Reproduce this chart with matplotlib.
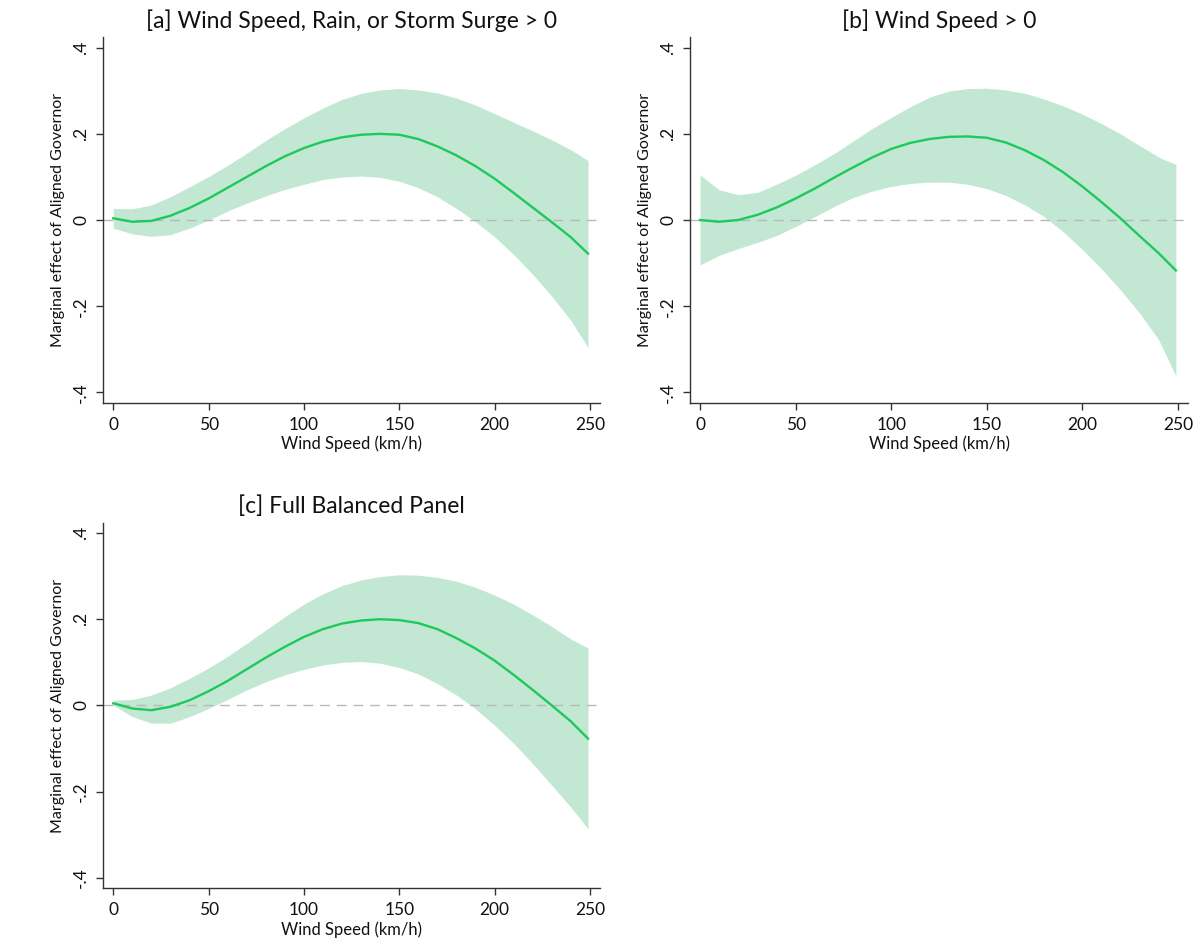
import matplotlib
matplotlib.use("Agg")
from matplotlib import pyplot as plt

plt.rcParams['font.family'] = ['Lato', 'DejaVu Sans']

# wind speed grid (km/h) where values were read
wind = [0, 10, 20, 30, 40, 50, 60, 70, 80, 90, 100, 110, 120,
        130, 140, 150, 160, 170, 180, 190, 200, 210, 220, 230, 240, 249]

# [a] Wind Speed, Rain, or Storm Surge > 0
a_est = [0.004, -0.004, -0.002, 0.010, 0.028, 0.050, 0.075, 0.100, 0.125, 0.148, 0.167, 0.182, 0.192,
         0.198, 0.200, 0.198, 0.188, 0.171, 0.150, 0.125, 0.096, 0.063, 0.029, -0.005, -0.040, -0.078]
a_hi = [0.027, 0.026, 0.035, 0.054, 0.077, 0.101, 0.127, 0.155, 0.185, 0.212, 0.237, 0.260, 0.280,
        0.294, 0.302, 0.305, 0.302, 0.295, 0.283, 0.267, 0.247, 0.227, 0.207, 0.186, 0.163, 0.138]
a_lo = [-0.019, -0.032, -0.038, -0.034, -0.019, 0.000, 0.021, 0.039, 0.056, 0.071, 0.083, 0.094, 0.100,
        0.102, 0.099, 0.090, 0.075, 0.054, 0.027, -0.004, -0.039, -0.080, -0.126, -0.177, -0.233, -0.296]

# [b] Wind Speed > 0
b_est = [0.000, -0.004, 0.000, 0.012, 0.029, 0.050, 0.073, 0.098, 0.122, 0.145, 0.165, 0.179, 0.188,
         0.193, 0.194, 0.191, 0.180, 0.162, 0.139, 0.111, 0.078, 0.042, 0.004, -0.037, -0.077, -0.117]
b_hi = [0.105, 0.070, 0.059, 0.064, 0.083, 0.104, 0.128, 0.154, 0.183, 0.212, 0.238, 0.263, 0.285,
        0.299, 0.305, 0.306, 0.302, 0.294, 0.281, 0.265, 0.246, 0.224, 0.200, 0.173, 0.146, 0.129]
b_lo = [-0.104, -0.082, -0.066, -0.052, -0.036, -0.015, 0.008, 0.031, 0.052, 0.067, 0.078, 0.085, 0.088,
        0.088, 0.083, 0.073, 0.057, 0.035, 0.008, -0.027, -0.068, -0.113, -0.162, -0.216, -0.278, -0.362]

# [c] Full Balanced Panel
c_est = [0.005, -0.007, -0.011, -0.003, 0.012, 0.033, 0.057, 0.084, 0.111, 0.136, 0.159, 0.177, 0.190,
         0.197, 0.200, 0.198, 0.191, 0.177, 0.156, 0.132, 0.104, 0.071, 0.036, 0.000, -0.037, -0.077]
c_hi = [0.012, 0.014, 0.024, 0.041, 0.063, 0.087, 0.114, 0.144, 0.175, 0.206, 0.235, 0.259, 0.278,
        0.291, 0.299, 0.303, 0.302, 0.297, 0.288, 0.274, 0.256, 0.235, 0.210, 0.183, 0.154, 0.133]
c_lo = [0.001, -0.026, -0.041, -0.041, -0.026, -0.007, 0.014, 0.036, 0.055, 0.071, 0.084, 0.094, 0.100,
        0.102, 0.098, 0.088, 0.073, 0.051, 0.024, -0.008, -0.046, -0.088, -0.135, -0.185, -0.236, -0.286]

titles = ['[a] Wind Speed, Rain, or Storm Surge > 0', '[b] Wind Speed > 0', '[c] Full Balanced Panel']
x_ticks = [0, 50, 100, 150, 200, 250]
y_ticks = [-0.4, -0.2, 0, 0.2, 0.4]
y_ticklabels = ['-.4', '-.2', '0', '.2', '.4']

LINE = '#1ec95c'
BAND = '#c2e7d3'
AXC = '#333333'

fig = plt.figure(figsize=(11.98, 9.48), dpi=100)
boxes = [
    [0.0861, 0.5752, 0.4151, 0.3854],
    [0.5759, 0.5752, 0.4160, 0.3854],
    [0.0861, 0.0630, 0.4151, 0.3857],
]
series = [(a_est, a_lo, a_hi), (b_est, b_lo, b_hi), (c_est, c_lo, c_hi)]

for box, title, (est, lo, hi) in zip(boxes, titles, series):
    ax = fig.add_axes(box)
    ax.fill_between(wind, lo, hi, color=BAND, linewidth=0, zorder=1)
    ax.plot(wind, est, color=LINE, linewidth=1.7, zorder=3, solid_joinstyle='round')
    ax.axhline(0, color='#b8b8b8', linewidth=1, dashes=(7, 5), zorder=2)

    ax.set_xlim(-5.3, 255.5)
    ax.set_ylim(-0.424, 0.424)
    ax.set_xticks(x_ticks)
    ax.set_yticks(y_ticks)
    ax.set_yticklabels(y_ticklabels, rotation=90, va='center')
    ax.tick_params(axis='both', direction='out', length=5, width=1, color=AXC,
                   labelsize=12.5, labelcolor='#111111', pad=5)

    for side in ['top', 'right']:
        ax.spines[side].set_visible(False)
    for side in ['left', 'bottom']:
        ax.spines[side].set_color(AXC)
        ax.spines[side].set_linewidth(1)

    ax.set_xlabel('Wind Speed (km/h)', fontsize=12, labelpad=2, color='#111111')
    ax.set_ylabel('Marginal effect of Aligned Governor', fontsize=11.5, labelpad=6, color='#111111')
    ax.set_title(title, fontsize=16.5, pad=7, color='#111111')

fig.savefig('out.png', dpi=100, facecolor='white')
plt.close(fig)
